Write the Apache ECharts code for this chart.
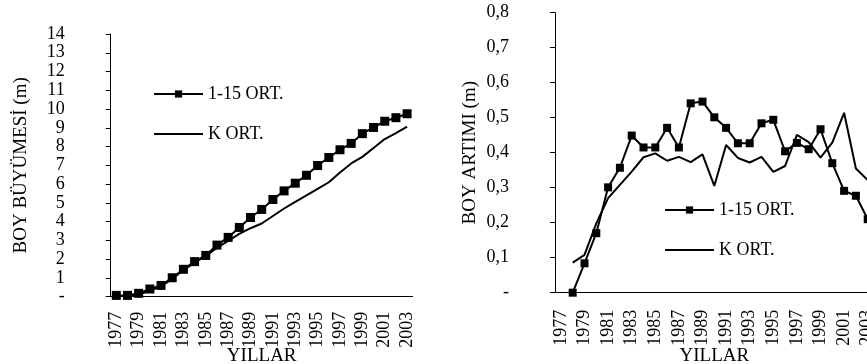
<!DOCTYPE html>
<html>
<head>
<meta charset="utf-8">
<script src="https://cdn.jsdelivr.net/npm/echarts@6/dist/echarts.min.js"></script>
<style>
  html, body { margin: 0; padding: 0; background: #fff; }
  #chart { width: 867px; height: 364px; }
</style>
</head>
<body>
<div id="chart"></div>
<script>
// Years on both horizontal axes
const years = ['1977','1978','1979','1980','1981','1982','1983','1984','1985','1986',
  '1987','1988','1989','1990','1991','1992','1993','1994','1995','1996',
  '1997','1998','1999','2000','2001','2002','2003'];

// Cumulative height growth (m)
const growth115 = [0.07, 0.07, 0.18, 0.41, 0.60, 1.01, 1.46, 1.87, 2.20, 2.75,
  3.16, 3.69, 4.22, 4.65, 5.18, 5.64, 6.05, 6.47, 6.99, 7.42,
  7.83, 8.17, 8.69, 9.02, 9.35, 9.54, 9.75];
const growthK = [0.04, 0.05, 0.12, 0.32, 0.55, 0.95, 1.42, 1.82, 2.17, 2.60,
  2.98, 3.35, 3.65, 3.90, 4.30, 4.70, 5.05, 5.40, 5.75, 6.10,
  6.62, 7.10, 7.45, 7.92, 8.40, 8.72, 9.06];

// Annual height increment (m)
const incr115 = [null, 0.000, 0.084, 0.170, 0.301, 0.357, 0.449, 0.415, 0.415, 0.471,
  0.415, 0.541, 0.546, 0.501, 0.471, 0.427, 0.427, 0.484, 0.494, 0.404,
  0.428, 0.410, 0.467, 0.370, 0.291, 0.277, 0.210];
const incrK = [null, 0.086, 0.108, 0.198, 0.270, 0.308, 0.346, 0.387, 0.398, 0.377,
  0.388, 0.373, 0.395, 0.305, 0.422, 0.385, 0.372, 0.388, 0.345, 0.362,
  0.451, 0.430, 0.386, 0.429, 0.514, 0.355, 0.322];

const seriesNames = ['1-15 ORT.', 'K ORT.'];
const xTitle = 'YILLAR';
const yTitleLeft = 'BOY BÜYÜMESİ (m)';
const yTitleRight = 'BOY ARTIMI (m)';

const FONT = 'Liberation Serif';
const INK = '#000';

function xAxisFor(gridIndex, labelMargin, nameGap) {
  return {
    type: 'category',
    gridIndex: gridIndex,
    data: years,
    boundaryGap: true,
    name: xTitle,
    nameLocation: 'middle',
    nameGap: nameGap,
    nameMoveOverlap: false,
    nameTextStyle: { fontFamily: FONT, fontSize: 19, color: INK },
    axisLine: { lineStyle: { color: INK, width: 1 } },
    axisTick: { interval: 0, length: 5, lineStyle: { color: INK } },
    axisLabel: {
      interval: 1, rotate: 90, margin: labelMargin,
      hideOverlap: false,
      fontFamily: FONT, fontSize: 18, color: INK
    },
    splitLine: { show: false }
  };
}

function yAxisFor(gridIndex, max, interval, fmt, title, nameGap) {
  return {
    type: 'value',
    gridIndex: gridIndex,
    min: 0, max: max, interval: interval,
    name: title,
    nameLocation: 'middle',
    nameGap: nameGap,
    nameMoveOverlap: false,
    nameTextStyle: { fontFamily: FONT, fontSize: 19, color: INK },
    axisLine: { show: true, lineStyle: { color: INK, width: 1 } },
    axisTick: { show: true, length: 5, lineStyle: { color: INK } },
    axisLabel: {
      margin: 46, formatter: fmt,
      showMinLabel: true, showMaxLabel: true, hideOverlap: false,
      fontFamily: FONT, fontSize: 18, color: INK
    },
    splitLine: { show: false }
  };
}

function markedLine(name, xi, data, size) {
  return {
    name: name, type: 'line', xAxisIndex: xi, yAxisIndex: xi, data: data,
    symbol: 'rect', symbolSize: size, showSymbol: true, showAllSymbol: true,
    itemStyle: { color: INK },
    lineStyle: { color: INK, width: 2 },
    connectNulls: false, animation: false
  };
}

function plainLine(name, xi, data) {
  return {
    name: name, type: 'line', xAxisIndex: xi, yAxisIndex: xi, data: data,
    symbol: 'none', showSymbol: false,
    itemStyle: { color: INK },
    lineStyle: { color: INK, width: 2 },
    animation: false
  };
}

function legendAt(left, top) {
  return {
    orient: 'vertical', left: left, top: top, padding: 0,
    data: [
      { name: seriesNames[0] },
      { name: seriesNames[1], itemStyle: { opacity: 0 } }
    ],
    itemWidth: 49, itemHeight: 9, itemGap: 20,
    textStyle: { fontFamily: FONT, fontSize: 18, color: INK, lineHeight: 20 },
    selectedMode: false
  };
}

const chart = echarts.init(document.getElementById('chart'), null, { renderer: 'canvas' });
chart.setOption({
  backgroundColor: '#fff',
  animation: false,
  grid: [
    { left: 110.7, top: 34, width: 302, height: 262.7, outerBoundsMode: 'none', containLabel: false },
    { left: 555, top: 12.7, width: 318.6, height: 280, outerBoundsMode: 'none', containLabel: false }
  ],
  legend: [legendAt(153, 84), legendAt(664, 200)],
  xAxis: [xAxisFor(0, 15, 50), xAxisFor(1, 17, 54)],
  yAxis: [
    yAxisFor(0, 14, 1, v => (v === 0 ? '-' : String(v)), yTitleLeft, 80),
    yAxisFor(1, 0.8, 0.1, v => (v === 0 ? '-' : v.toFixed(1).replace('.', ',')), yTitleRight, 75)
  ],
  series: [
    markedLine(seriesNames[0], 0, growth115, 9),
    plainLine(seriesNames[1], 0, growthK),
    markedLine(seriesNames[0], 1, incr115, 8),
    plainLine(seriesNames[1], 1, incrK)
  ]
});
</script>
</body>
</html>
